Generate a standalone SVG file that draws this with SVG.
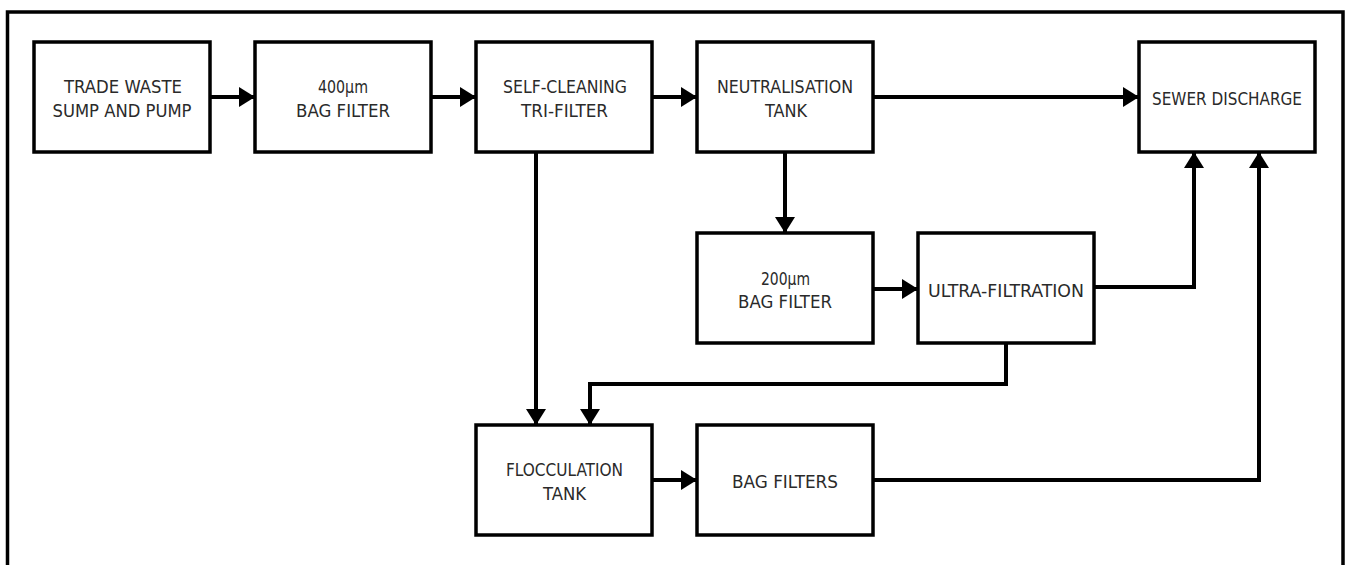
<svg xmlns="http://www.w3.org/2000/svg" width="1346" height="565" viewBox="0 0 1346 565">
<style>
.box{fill:#fff;stroke:#000;stroke-width:3.5}
.lbl{font-family:"DejaVu Sans Condensed","DejaVu Sans","Liberation Sans",sans-serif;font-size:18px;fill:#2a2a2a;text-anchor:middle}
.con{fill:none;stroke:#000;stroke-width:4;stroke-linejoin:miter;stroke-linecap:butt}
.frame{fill:none;stroke:#000;stroke-width:3.5}
</style>
<defs>
<marker id="ah" viewBox="0 0 16 20" refX="16" refY="10" markerWidth="16" markerHeight="20" markerUnits="userSpaceOnUse" orient="auto">
<path d="M0,0 L16,10 L0,20 Z" fill="#000"/>
</marker>
</defs>
<rect width="1346" height="565" fill="#fff"/>
<path class="frame" d="M7.5,566 V12 H1343 V566"/>
<g id="connectors">
<path class="con" d="M210,97 H255" marker-end="url(#ah)"/>
<path class="con" d="M431,97 H476" marker-end="url(#ah)"/>
<path class="con" d="M652,97 H697" marker-end="url(#ah)"/>
<path class="con" d="M873,97 H1139" marker-end="url(#ah)"/>
<path class="con" d="M536,152 V425" marker-end="url(#ah)"/>
<path class="con" d="M785,152 V233" marker-end="url(#ah)"/>
<path class="con" d="M873,289 H918" marker-end="url(#ah)"/>
<path class="con" d="M1094,287 H1194 V152" marker-end="url(#ah)"/>
<path class="con" d="M1006,343 V384 H590 V425" marker-end="url(#ah)"/>
<path class="con" d="M652,480 H697" marker-end="url(#ah)"/>
<path class="con" d="M873,480 H1259 V152" marker-end="url(#ah)"/>
</g>
<g id="trade-waste">
<rect class="box" x="34" y="42" width="176" height="110"/>
<text class="lbl" x="123" y="93" textLength="118" lengthAdjust="spacingAndGlyphs">TRADE WASTE</text>
<text class="lbl" x="122" y="117" textLength="139" lengthAdjust="spacingAndGlyphs">SUMP AND PUMP</text>
</g>
<g id="bag-filter-400">
<rect class="box" x="255" y="42" width="176" height="110"/>
<text class="lbl" x="343" y="93" textLength="50" lengthAdjust="spacingAndGlyphs">400μm</text>
<text class="lbl" x="343" y="117" textLength="94" lengthAdjust="spacingAndGlyphs">BAG FILTER</text>
</g>
<g id="tri-filter">
<rect class="box" x="476" y="42" width="176" height="110"/>
<text class="lbl" x="565" y="93" textLength="124" lengthAdjust="spacingAndGlyphs">SELF-CLEANING</text>
<text class="lbl" x="564.5" y="117" textLength="87" lengthAdjust="spacingAndGlyphs">TRI-FILTER</text>
</g>
<g id="neutralisation">
<rect class="box" x="697" y="42" width="176" height="110"/>
<text class="lbl" x="785" y="93" textLength="136" lengthAdjust="spacingAndGlyphs">NEUTRALISATION</text>
<text class="lbl" x="786" y="117" textLength="42" lengthAdjust="spacingAndGlyphs">TANK</text>
</g>
<g id="sewer">
<rect class="box" x="1139" y="42" width="176" height="110"/>
<text class="lbl" x="1227" y="105" textLength="150" lengthAdjust="spacingAndGlyphs">SEWER DISCHARGE</text>
</g>
<g id="bag-filter-200">
<rect class="box" x="697" y="233" width="176" height="110"/>
<text class="lbl" x="785.5" y="285" textLength="49" lengthAdjust="spacingAndGlyphs">200μm</text>
<text class="lbl" x="785" y="308" textLength="94" lengthAdjust="spacingAndGlyphs">BAG FILTER</text>
</g>
<g id="ultra-filtration">
<rect class="box" x="918" y="233" width="176" height="110"/>
<text class="lbl" x="1006" y="297" textLength="156" lengthAdjust="spacingAndGlyphs">ULTRA-FILTRATION</text>
</g>
<g id="flocculation">
<rect class="box" x="476" y="425" width="176" height="110"/>
<text class="lbl" x="564.5" y="476" textLength="117" lengthAdjust="spacingAndGlyphs">FLOCCULATION</text>
<text class="lbl" x="564.5" y="500" textLength="43" lengthAdjust="spacingAndGlyphs">TANK</text>
</g>
<g id="bag-filters">
<rect class="box" x="697" y="425" width="176" height="110"/>
<text class="lbl" x="785" y="488" textLength="106" lengthAdjust="spacingAndGlyphs">BAG FILTERS</text>
</g>
</svg>
